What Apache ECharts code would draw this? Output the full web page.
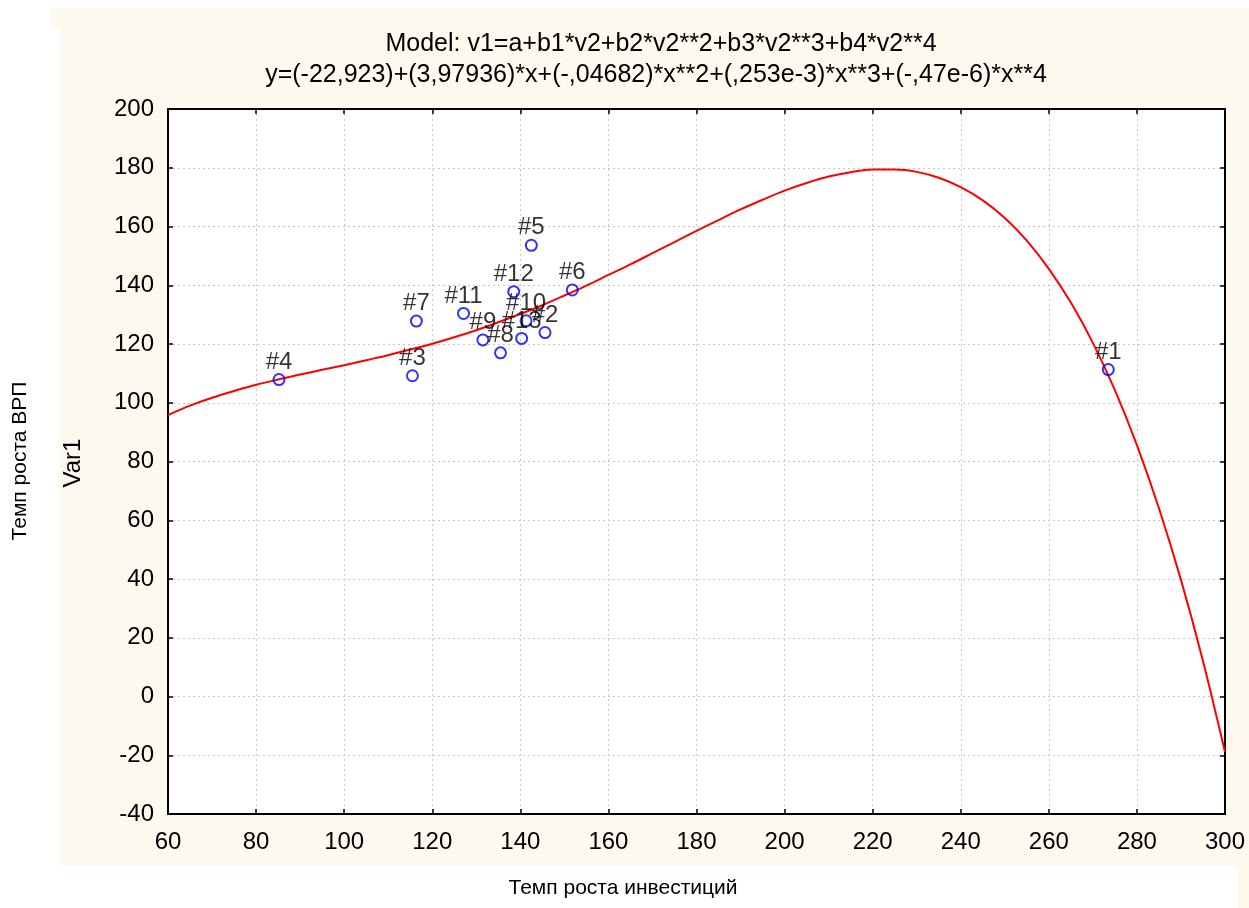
<!DOCTYPE html>
<html><head><meta charset="utf-8">
<script src="https://cdn.jsdelivr.net/npm/echarts@6/dist/echarts.min.js"></script>
<style>html,body{margin:0;padding:0;background:#fff}#c{width:1249px;height:908px}</style>
</head><body><div id="c"></div>
<script>
// Observed cases (label, x = Темп роста инвестиций, y = Темп роста ВРП)
const caseLabels = ['#1','#2','#3','#4','#5','#6','#7','#8','#9','#10','#11','#12','#13'];
const caseX = [273.5, 145.6, 115.5, 85.2, 142.5, 151.8, 116.4, 135.5, 131.5, 141.3, 127.1, 138.5, 140.3];
const caseY = [111.3, 123.9, 109.2, 107.9, 153.6, 138.4, 127.8, 117.0, 121.4, 127.9, 130.4, 137.8, 121.9];

// Fitted curve
const curveX = [60,65,70,75,80,85,90,95,100,105,110,115,120,125,130,135,140,145,150,155,160,165,170,175,180,185,190,195,200,205,210,215,220,225,230,235,240,245,250,255,260,265,270,275,280,285,290,295,300];
const curveY = [95.8,99.0,101.7,104.0,106.1,107.9,109.6,111.2,112.8,114.5,116.2,118.1,120.1,122.3,124.7,127.4,130.2,133.2,136.5,139.9,143.5,147.1,150.9,154.7,158.5,162.2,165.8,169.1,172.2,174.8,177.0,178.5,179.4,179.4,178.6,176.6,173.4,168.9,162.9,155.2,145.6,134.1,120.4,104.3,85.6,64.1,39.7,12.1,-18.9];

const titleLine1 = 'Model: v1=a+b1*v2+b2*v2**2+b3*v2**3+b4*v2**4';
const titleLine2 = 'y=(-22,923)+(3,97936)*x+(-,04682)*x**2+(,253e-3)*x**3+(-,47e-6)*x**4';
const xTitle = 'Темп роста инвестиций';
const yTitle = 'Темп роста ВРП';
const yInner = 'Var1';

const FONT = '"Liberation Sans", Arial, sans-serif';
const chart = echarts.init(document.getElementById('c'), null, {renderer: 'canvas'});

const scatterData = caseLabels.map((n, i) => ({name: n, value: [caseX[i], caseY[i]]}));
const curveData = curveX.map((x, i) => [x, curveY[i]]);

const axisCommon = {
  type: 'value',
  axisLine: {show: true, onZero: false, lineStyle: {color: '#000', width: 2}},
  axisTick: {show: true, inside: true, length: 5, lineStyle: {color: '#000', width: 1.5}},
};

chart.setOption({
  backgroundColor: '#FDF9EE',
  animation: false,
  grid: {left: 168, right: 24, top: 109, bottom: 94, show: true, backgroundColor: '#fff', borderColor: '#000', borderWidth: 1.5},
  xAxis: [
    Object.assign({}, axisCommon, {
      min: 60, max: 300, interval: 20, position: 'bottom',
      axisLabel: {color: '#000', fontSize: 24, fontFamily: FONT, margin: 16},
      splitLine: {show: true, lineStyle: {color: '#c8c8c8', type: [2, 3], width: 1}}
    }),
    Object.assign({}, axisCommon, {
      min: 60, max: 300, interval: 20, position: 'top',
      axisLabel: {show: false}, splitLine: {show: false}
    })
  ],
  yAxis: [
    Object.assign({}, axisCommon, {
      min: -40, max: 200, interval: 20, position: 'left',
      axisLabel: {color: '#000', fontSize: 24, fontFamily: FONT, margin: 14},
      splitLine: {show: true, lineStyle: {color: '#c8c8c8', type: [2, 3], width: 1}}
    }),
    Object.assign({}, axisCommon, {
      min: -40, max: 200, interval: 20, position: 'right',
      axisLabel: {show: false}, splitLine: {show: false}
    })
  ],
  series: [
    {
      type: 'line', data: curveData, smooth: 0.3, showSymbol: false, symbol: 'none',
      lineStyle: {color: '#FF0000', width: 2}, z: 2, clip: true
    },
    {
      type: 'scatter', data: scatterData, symbol: 'circle', symbolSize: 11,
      itemStyle: {color: 'rgba(0,0,0,0)', borderColor: '#0000FF', borderWidth: 2},
      label: {show: true, position: 'top', distance: -1, formatter: p => p.name,
        color: '#000', fontSize: 24, fontFamily: FONT, lineHeight: 24},
      z: 3
    }
  ],
  graphic: [
    {type: 'rect', shape: {x: 0, y: 0, width: 1249, height: 8}, style: {fill: '#fff'}, silent: true},
    {type: 'rect', shape: {x: 0, y: 0, width: 50, height: 908}, style: {fill: '#fff'}, silent: true},
    {type: 'rect', shape: {x: 0, y: 28, width: 60, height: 880}, style: {fill: '#fff'}, silent: true},
    {type: 'rect', shape: {x: 0, y: 866, width: 1237, height: 42}, style: {fill: '#fff'}, silent: true},
    {type: 'text', x: 661, y: 44, style: {text: titleLine1, fill: '#000', font: '25px ' + FONT, textAlign: 'center', textVerticalAlign: 'middle'}},
    {type: 'text', x: 656, y: 75, style: {text: titleLine2, fill: '#000', font: '25px ' + FONT, textAlign: 'center', textVerticalAlign: 'middle'}},
    {type: 'text', x: 623, y: 888, style: {text: xTitle, fill: '#000', font: '21px ' + FONT, textAlign: 'center', textVerticalAlign: 'middle'}},
    {type: 'text', x: 20, y: 461, rotation: Math.PI / 2, style: {text: yTitle, fill: '#000', font: '21px ' + FONT, textAlign: 'center', textVerticalAlign: 'middle'}},
    {type: 'text', x: 73, y: 463, rotation: Math.PI / 2, style: {text: yInner, fill: '#000', font: '24px ' + FONT, textAlign: 'center', textVerticalAlign: 'middle'}}
  ]
});
</script>
</body></html>
